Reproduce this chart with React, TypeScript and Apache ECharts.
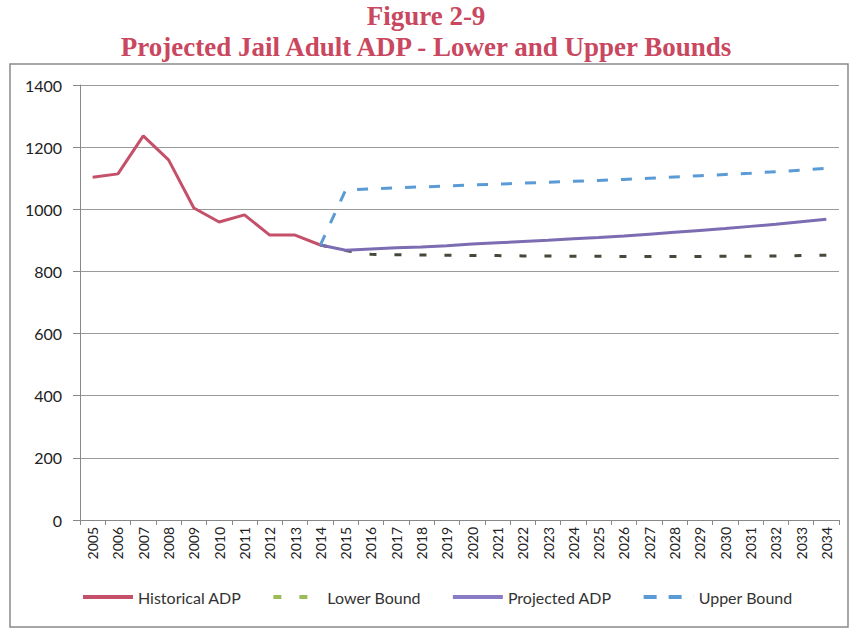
import React, { useEffect, useRef } from "react";
import * as echarts from "echarts";

const years = [
  "2005", "2006", "2007", "2008", "2009", "2010", "2011", "2012", "2013", "2014",
  "2015", "2016", "2017", "2018", "2019", "2020", "2021", "2022", "2023", "2024",
  "2025", "2026", "2027", "2028", "2029", "2030", "2031", "2032", "2033", "2034",
];

const historical = [1103, 1114, 1236, 1159, 1004, 959, 982, 917, 917, 885];

// 2014 .. 2034
const lowerBound = [885, 867, 855, 854, 853, 852, 851, 851, 850, 850, 849, 849, 848, 848, 848, 848, 849, 849, 850, 851, 852];
const projected = [885, 868, 872, 876, 879, 883, 888, 892, 896, 900, 905, 909, 914, 920, 926, 932, 938, 945, 952, 960, 968];
const upperBound = [885, 1062, 1066, 1069, 1072, 1075, 1078, 1081, 1084, 1087, 1090, 1093, 1096, 1100, 1104, 1108, 1112, 1116, 1121, 1126, 1132];

const yTicks = [0, 200, 400, 600, 800, 1000, 1200, 1400];

const pad = (arr: number[], start: number) =>
  years.map((_, i) => (i >= start && i - start < arr.length ? arr[i - start] : null));

const solidIcon = "path://M0,0h50v4h-50z";
const dashIcon = "path://M0,0h13v4h-13z M25,0h13v4h-13z M49.9,0h0.1v4h-0.1z";
const shortDashIcon = "path://M2,0h8v4h-8z M28,0h8v4h-8z M49.9,0h0.1v4h-0.1z";

export default function App() {
  const ref = useRef<HTMLDivElement>(null);
  useEffect(() => {
    if (!ref.current) return;
    const chart = echarts.init(ref.current, undefined, { renderer: "svg" });
    const font = "Lato, 'Open Sans', sans-serif";
    chart.setOption({
      animation: false,
      backgroundColor: "#ffffff",
      title: {
        text: "Figure 2-9\nProjected Jail Adult ADP - Lower and Upper Bounds",
        left: "center",
        top: -5,
        textStyle: {
          color: "#c9475f",
          fontFamily: "'Liberation Serif', serif",
          fontWeight: "bold",
          fontSize: 27,
          lineHeight: 31,
        },
      },
      graphic: [
        {
          type: "rect",
          shape: { x: 10, y: 64, width: 838, height: 563 },
          style: { fill: "none", stroke: "#8a8a8a", lineWidth: 1.5 },
          silent: true,
        },
      ],
      grid: { left: 80, right: 13, top: 85, bottom: 112, containLabel: false },
      legend: {
        bottom: 22,
        left: 78,
        itemWidth: 50,
        itemHeight: 4,
        itemGap: 32,
        textStyle: { fontFamily: font, fontSize: 16, color: "#333" },
        data: [
          { name: "Historical ADP", icon: solidIcon, itemStyle: { color: "#c4506a" } },
          { name: "Lower Bound", icon: shortDashIcon, itemStyle: { color: "#9bbb59" } },
          { name: "Projected ADP", icon: solidIcon, itemStyle: { color: "#8a7cc4" } },
          { name: "Upper Bound", icon: dashIcon, itemStyle: { color: "#5b9bd5" } },
        ],
      },
      xAxis: {
        type: "category",
        data: years,
        boundaryGap: true,
        axisLine: { lineStyle: { color: "#888", width: 1 } },
        axisTick: { show: true, length: 5, lineStyle: { color: "#888" }, alignWithLabel: false },
        axisLabel: {
          rotate: 90,
          margin: 7,
          fontFamily: font,
          fontSize: 14,
          color: "#222",
          interval: 0,
        },
      },
      yAxis: {
        type: "value",
        min: 0,
        max: 1400,
        interval: 200,
        axisLine: { show: true, lineStyle: { color: "#888" } },
        axisTick: { show: true, length: 7, lineStyle: { color: "#888" } },
        axisLabel: {
          fontFamily: font,
          fontSize: 16,
          color: "#222",
          margin: 18,
          formatter: (v: number) => (yTicks.includes(v) ? String(v) : ""),
        },
        splitLine: { lineStyle: { color: "#9a9a9a", width: 1 } },
      },
      series: [
        {
          name: "Historical ADP",
          type: "line",
          data: pad(historical, 0),
          symbol: "none",
          lineStyle: { color: "#c4506a", width: 3 },
          itemStyle: { color: "#c4506a" },
        },
        {
          name: "Lower Bound",
          type: "line",
          data: pad(lowerBound, 9),
          symbol: "none",
          lineStyle: { color: "#45493a", width: 3, type: [7, 18] },
          itemStyle: { color: "#45493a" },
        },
        {
          name: "Projected ADP",
          type: "line",
          data: pad(projected, 9),
          symbol: "none",
          lineStyle: { color: "#7c6db3", width: 3 },
          itemStyle: { color: "#7c6db3" },
        },
        {
          name: "Upper Bound",
          type: "line",
          data: pad(upperBound, 9),
          symbol: "none",
          lineStyle: { color: "#5b9bd5", width: 3, type: [11, 13] },
          itemStyle: { color: "#5b9bd5" },
        },
      ],
    });
    return () => chart.dispose();
  }, []);
  return (
    <div
      ref={ref}
      style={{ position: "fixed", left: 0, top: 0, width: 852, height: 632 }}
    />
  );
}
